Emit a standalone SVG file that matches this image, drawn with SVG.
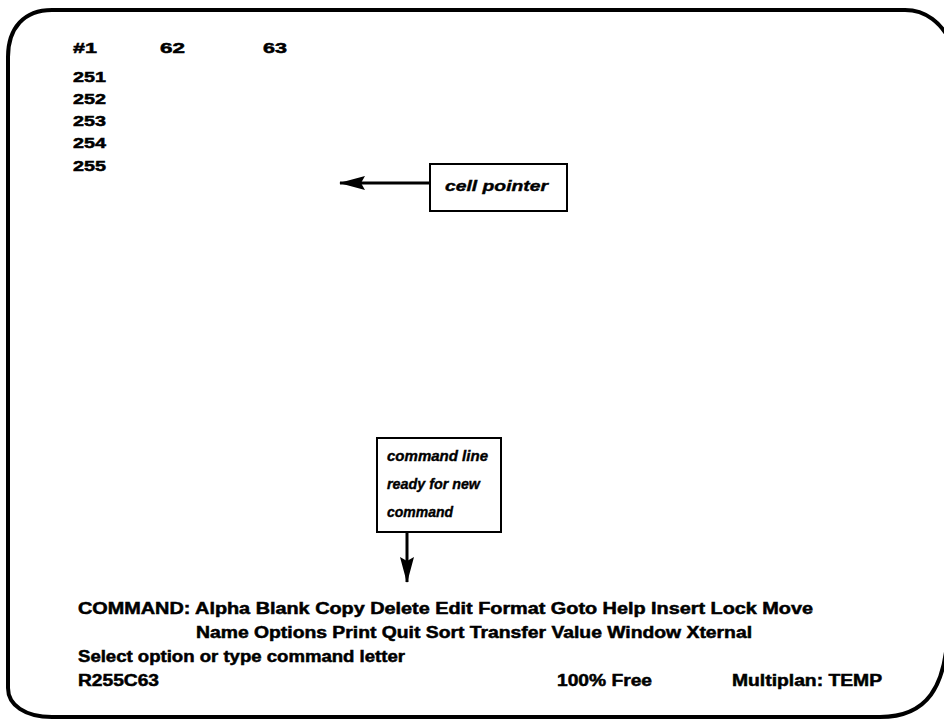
<svg xmlns="http://www.w3.org/2000/svg" width="944" height="722" viewBox="0 0 944 722">
  <style>
    .t { font-family: "Liberation Sans", Arial, Helvetica, sans-serif; font-weight: bold; fill: #000; stroke: #000; stroke-width: 0.5; }
    .n { font-size: 15px; }
    .s { font-size: 16px; }
    .i { font-family: "Liberation Sans", Arial, Helvetica, sans-serif; font-weight: bold; font-style: italic; font-size: 15px; fill: #000; stroke: #000; stroke-width: 0.4; }
    .box { fill: #fff; stroke: #000; stroke-width: 2; }
    .conn { stroke: #000; stroke-width: 3; fill: none; }
  </style>
  <defs>
    <marker id="arrow" viewBox="0 0 26 14" refX="25" refY="7" markerWidth="26" markerHeight="14" markerUnits="userSpaceOnUse" orient="auto">
      <path d="M0,0 L26,7 L0,14 L4,7 Z" fill="#000"/>
    </marker>
  </defs>
  <rect width="944" height="722" fill="#fff"/>
  <g id="frame">
    <path d="M8,57 C8,28 24,10 52,10 L905,10 C925,10 942,22 952,45 L948,620 C948,690 925,717 880,717 L52,717 C25,717 8,705 8,688 Z" fill="none" stroke="#000" stroke-width="4"/>
  </g>
  <g id="column-headers">
    <text class="t n" x="73" y="53" textLength="24" lengthAdjust="spacingAndGlyphs">#1</text>
    <text class="t n" x="160" y="53" textLength="25" lengthAdjust="spacingAndGlyphs">62</text>
    <text class="t n" x="263" y="53" textLength="24" lengthAdjust="spacingAndGlyphs">63</text>
  </g>
  <g id="row-headers">
    <text class="t n" x="73" y="82" textLength="33" lengthAdjust="spacingAndGlyphs">251</text>
    <text class="t n" x="73" y="104" textLength="33" lengthAdjust="spacingAndGlyphs">252</text>
    <text class="t n" x="73" y="126" textLength="33" lengthAdjust="spacingAndGlyphs">253</text>
    <text class="t n" x="73" y="148" textLength="33" lengthAdjust="spacingAndGlyphs">254</text>
    <text class="t n" x="73" y="171" textLength="33" lengthAdjust="spacingAndGlyphs">255</text>
  </g>
  <g id="cell-pointer-label">
    <rect class="box" x="430" y="164" width="137" height="47"/>
    <text class="i" x="445" y="191" textLength="103" lengthAdjust="spacingAndGlyphs">cell pointer</text>
  </g>
  <g id="command-line-label">
    <rect class="box" x="377" y="438" width="124" height="94"/>
    <text class="i" x="387" y="461" textLength="101" lengthAdjust="spacingAndGlyphs">command line</text>
    <text class="i" x="387" y="489" textLength="93" lengthAdjust="spacingAndGlyphs">ready for new</text>
    <text class="i" x="387" y="517" textLength="66" lengthAdjust="spacingAndGlyphs">command</text>
  </g>
  <g id="command-area">
    <text class="t s" x="78" y="614" textLength="735" lengthAdjust="spacingAndGlyphs">COMMAND: Alpha Blank Copy Delete Edit Format Goto Help Insert Lock Move</text>
    <text class="t s" x="196" y="638" textLength="556" lengthAdjust="spacingAndGlyphs">Name Options Print Quit Sort Transfer Value Window Xternal</text>
    <text class="t s" x="78" y="662" textLength="327" lengthAdjust="spacingAndGlyphs">Select option or type command letter</text>
  </g>
  <g id="status-line">
    <text class="t s" x="78" y="686" textLength="81" lengthAdjust="spacingAndGlyphs">R255C63</text>
    <text class="t s" x="557" y="686" textLength="95" lengthAdjust="spacingAndGlyphs">100% Free</text>
    <text class="t s" x="732" y="686" textLength="150" lengthAdjust="spacingAndGlyphs">Multiplan: TEMP</text>
  </g>
  <g id="connectors">
    <line class="conn" x1="430" y1="183" x2="340" y2="183" marker-end="url(#arrow)"/>
    <line class="conn" x1="407" y1="532" x2="407" y2="582" marker-end="url(#arrow)"/>
  </g>
</svg>
